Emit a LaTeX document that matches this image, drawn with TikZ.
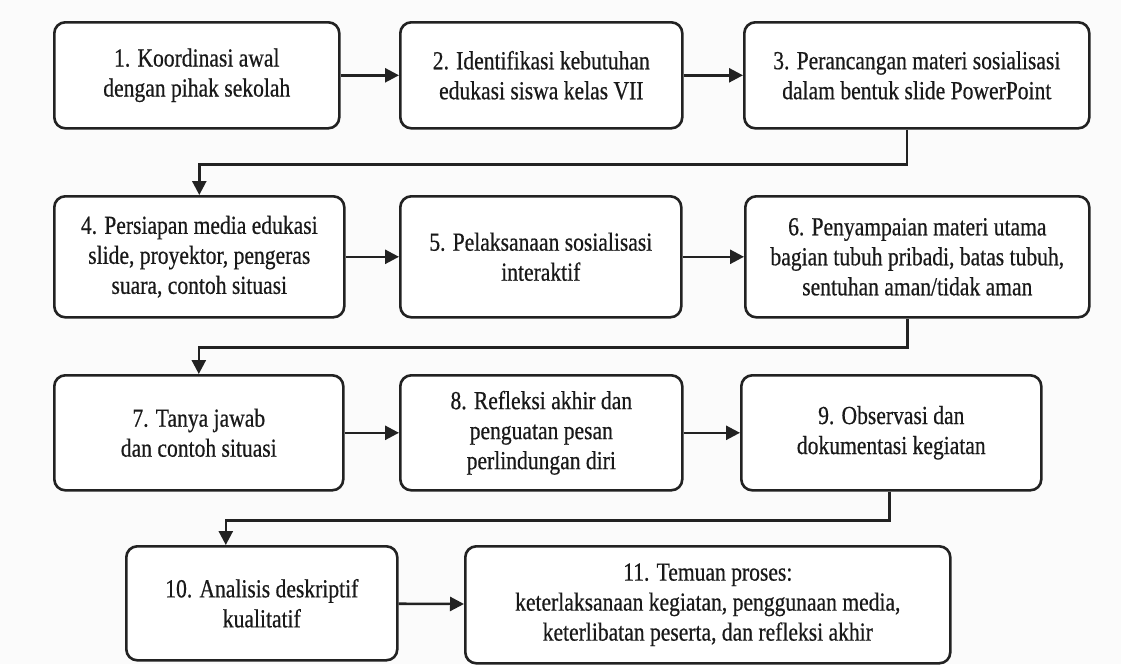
\documentclass[tikz,border=0pt]{standalone}
\usepackage{fontspec}
\setmainfont{Liberation Serif}[FakeStretch=0.83, FakeBold=0.5]
\usepackage{xcolor}
\usepackage{tikz}
\usetikzlibrary{arrows.meta}
\definecolor{linegray}{HTML}{222222}
\definecolor{bggray}{HTML}{FBFBFB}
\tikzstyle{process} = [rectangle, rounded corners=11pt, anchor=north west, inner sep=0pt, align=center, draw=linegray, line width=2.6pt, fill=white, text=black!90, font=\fontsize{26}{30}\selectfont]
\tikzstyle{arrow} = [line width=2.6pt, draw=linegray, -{Triangle[length=14pt,width=14pt]}]

\begin{document}
\begin{tikzpicture}[x=1pt, y=-1pt]
   \fill [bggray] (0,0) rectangle (1121,664);
   \useasboundingbox (0,0) rectangle (1121,664);
   \node (s1) [process, minimum width=285pt, minimum height=106pt] at (53,21) {1. Koordinasi awal\\dengan pihak sekolah};
   \node (s2) [process, minimum width=282pt, minimum height=106pt] at (399,21) {2. Identifikasi kebutuhan\\edukasi siswa kelas VII};
   \node (s3) [process, minimum width=345pt, minimum height=106pt] at (743,21) {3. Perancangan materi sosialisasi\\dalam bentuk slide PowerPoint};
   \node (s4) [process, minimum width=290pt, minimum height=121pt] at (53,195) {4. Persiapan media edukasi\\slide, proyektor, pengeras\\suara, contoh situasi};
   \node (s5) [process, minimum width=281pt, minimum height=121pt] at (399,195) {5. Pelaksanaan sosialisasi\\interaktif};
   \node (s6) [process, minimum width=344pt, minimum height=121pt] at (744,195) {6. Penyampaian materi utama\\bagian tubuh pribadi, batas tubuh,\\sentuhan aman/tidak aman};
   \node (s7) [process, minimum width=289pt, minimum height=115pt] at (53,374) {7. Tanya jawab\\dan contoh situasi};
   \node (s8) [process, minimum width=282pt, minimum height=115pt] at (399,374) {8. Refleksi akhir dan\\penguatan pesan\\perlindungan diri};
   \node (s9) [process, minimum width=300pt, minimum height=115pt] at (740,374) {9. Observasi dan\\dokumentasi kegiatan};
   \node (s10) [process, minimum width=271pt, minimum height=114pt] at (125,545) {10. Analisis deskriptif\\kualitatif};
   \node (s11) [process, minimum width=485pt, minimum height=117pt] at (464,545) {11. Temuan proses:\\keterlaksanaan kegiatan, penggunaan media,\\keterlibatan peserta, dan refleksi akhir};
   \draw [arrow] (s1) -- (s2);
   \draw [arrow] (s2) -- (s3);
   \draw [arrow] ([xshift=-10pt]s3.south) -- ++(0,35) -| (s4.north);
   \draw [arrow] (s4) -- (s5);
   \draw [arrow] (s5) -- (s6);
   \draw [arrow] ([xshift=-10pt]s6.south) -- ++(0,29) -| (s7.north);
   \draw [arrow] (s7) -- (s8);
   \draw [arrow] (s8) -- (s9);
   \draw [arrow] ([xshift=-2pt]s9.south) -- ++(0,29) -| ([xshift=-36pt]s10.north);
   \draw [arrow] (s10) -- (s11);
\end{tikzpicture}
\end{document}
